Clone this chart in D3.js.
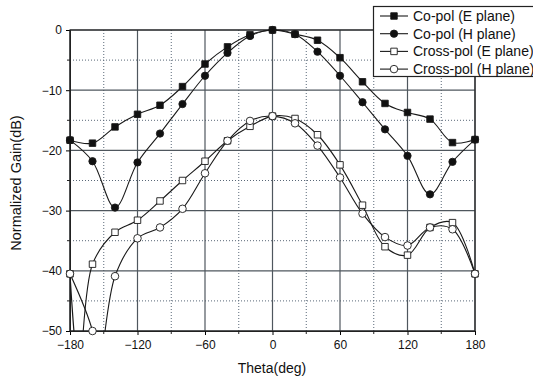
<!DOCTYPE html>
<html><head><meta charset="utf-8">
<script src="https://cdn.jsdelivr.net/npm/d3@7/dist/d3.min.js"></script>
<style>body{margin:0;background:#fff;}svg{display:block;font-family:"Liberation Sans",Arial,sans-serif;}</style>
</head><body><svg id="c" width="533" height="377"></svg>
<script>
const theta = [-180,-160,-140,-120,-100,-80,-60,-40,-20,0,20,40,60,80,100,120,140,160,180];
const coPolE    = [-18.3,-18.8,-16.1,-14.0,-12.5,-9.4,-5.65,-2.8,-0.8,0,-0.7,-1.7,-4.6,-8.6,-12.2,-13.7,-14.8,-18.7,-18.2];
const coPolH    = [-18.3,-21.8,-29.5,-22.0,-17.2,-12.3,-7.6,-3.8,-1.0,0,-0.7,-3.6,-7.6,-12.0,-16.5,-20.9,-27.3,-21.9,-18.2];
const crossPolE = [-40.5,-38.9,-33.6,-31.6,-28.4,-25.0,-21.8,-18.4,-16.0,-14.3,-14.7,-17.4,-22.4,-29.1,-36.0,-37.4,-32.8,-32.0,-40.5];
const crossPolH = [-40.5,-50.0,-40.9,-34.6,-32.8,-29.7,-23.8,-18.4,-15.1,-14.3,-15.5,-19.2,-24.5,-30.5,-34.4,-35.8,-32.8,-33.1,-40.5];
// unmarked samples where the curves drop below the axis floor
const crossPolEExtra = [[-172,-56]];
const crossPolHExtra = [[-155,-57]];
const seriesNames = ["Co-pol (E plane)","Co-pol (H plane)","Cross-pol (E plane)","Cross-pol (H plane)"];
const xTicks = [-180,-120,-60,0,60,120,180];
const xMinor = [-150,-90,-30,30,90,150];
const yTicks = [0,-10,-20,-30,-40,-50];
const yMinor = [-5,-15,-25,-35,-45];

const svg = d3.select("#c");
const L=70, R=475, T=30, B=331;
const x = d3.scaleLinear().domain([-180,180]).range([L,R]);
const y = d3.scaleLinear().domain([-50,0]).range([B,T]);
const majorCol="#4f575e", minorCol="#5a6878";

// grid
const g = svg.append("g");
g.selectAll(".vm").data(xMinor).join("line").attr("x1",d=>x(d)).attr("x2",d=>x(d)).attr("y1",T).attr("y2",B)
  .attr("stroke",minorCol).attr("stroke-width",1).attr("stroke-dasharray","1,2");
g.selectAll(".hm").data(yMinor).join("line").attr("y1",d=>y(d)).attr("y2",d=>y(d)).attr("x1",L).attr("x2",R)
  .attr("stroke",minorCol).attr("stroke-width",1).attr("stroke-dasharray","1,2");
g.selectAll(".vM").data(xTicks).join("line").attr("x1",d=>x(d)).attr("x2",d=>x(d)).attr("y1",T).attr("y2",B)
  .attr("stroke",majorCol).attr("stroke-width",1.2);
g.selectAll(".hM").data(yTicks).join("line").attr("y1",d=>y(d)).attr("y2",d=>y(d)).attr("x1",L).attr("x2",R)
  .attr("stroke",majorCol).attr("stroke-width",1.2);

// axes
const xAxis = d3.axisBottom(x).tickValues(xTicks).tickSize(4).tickPadding(5);
const ax = svg.append("g").attr("transform",`translate(0,${B})`).call(xAxis);
ax.select(".domain").attr("stroke","#222");
ax.selectAll("text").attr("font-size",12).attr("fill","#111").attr("font-family","Liberation Sans, Arial, sans-serif");
svg.append("g").selectAll("line").data(xMinor).join("line").attr("x1",d=>x(d)).attr("x2",d=>x(d)).attr("y1",B).attr("y2",B+3).attr("stroke","#222");
const yAxis = d3.axisLeft(y).tickValues(yTicks).tickSize(4).tickPadding(4);
const ay = svg.append("g").attr("transform",`translate(${L},0)`).call(yAxis);
ay.select(".domain").attr("stroke","#222");
ay.selectAll("text").attr("font-size",12).attr("fill","#111").attr("font-family","Liberation Sans, Arial, sans-serif");
svg.append("g").selectAll("line").data(yMinor).join("line").attr("y1",d=>y(d)).attr("y2",d=>y(d)).attr("x1",L-3).attr("x2",L).attr("stroke","#222");
svg.append("rect").attr("x",L).attr("y",T).attr("width",R-L).attr("height",B-T).attr("fill","none").attr("stroke","#222").attr("stroke-width",1.2);

svg.append("text").attr("x",272).attr("y",373).attr("text-anchor","middle").attr("font-size",14).attr("fill","#111").text("Theta(deg)");
svg.append("text").attr("transform","translate(21,183) rotate(-90)").attr("text-anchor","middle").attr("font-size",14.5).attr("fill","#111").text("Normalized Gain(dB)");

// data
svg.append("clipPath").attr("id","clip").append("rect").attr("x",L).attr("y",T-2).attr("width",R-L).attr("height",B-T+2);
const mk = (vals, extra) => theta.map((t,i)=>({t, v:vals[i], m:true}))
  .concat((extra||[]).map(e=>({t:e[0], v:e[1], m:false}))).sort((a,b)=>a.t-b.t);
const series = [
  {name:seriesNames[0], pts:mk(coPolE), sym:d3.symbolSquare, fill:"#111", size:42},
  {name:seriesNames[1], pts:mk(coPolH), sym:d3.symbolCircle, fill:"#111", size:42},
  {name:seriesNames[2], pts:mk(crossPolE,crossPolEExtra), sym:d3.symbolSquare, fill:"#fff", size:42},
  {name:seriesNames[3], pts:mk(crossPolH,crossPolHExtra), sym:d3.symbolCircle, fill:"#fff", size:45},
];
const line = d3.line().x(d=>x(d.t)).y(d=>y(d.v)).curve(d3.curveCatmullRom.alpha(0.5));
const plot = svg.append("g");
series.forEach(s=>{
  plot.append("path").attr("d",line(s.pts)).attr("fill","none").attr("stroke","#1a1a1a").attr("stroke-width",1.1).attr("clip-path","url(#clip)");
});
series.forEach(s=>{
  plot.selectAll(null).data(s.pts.filter(p=>p.m)).join("path")
    .attr("transform",p=>`translate(${x(p.t)},${y(p.v)})`)
    .attr("d",d3.symbol().type(s.sym).size(s.size))
    .attr("fill",s.fill).attr("stroke","#1a1a1a").attr("stroke-width",0.9);
});

// legend
const lg = svg.append("g");
lg.append("rect").attr("x",373.5).attr("y",6.5).attr("width",170).attr("height",70).attr("fill","#fff").attr("stroke","#222").attr("stroke-width",1.2);
series.forEach((s,i)=>{
  const yy = 16 + i*17.7;
  lg.append("line").attr("x1",380).attr("x2",408).attr("y1",yy).attr("y2",yy).attr("stroke","#1a1a1a").attr("stroke-width",1.1);
  lg.append("path").attr("transform",`translate(394,${yy})`).attr("d",d3.symbol().type(s.sym).size(s.size))
    .attr("fill",s.fill).attr("stroke","#1a1a1a").attr("stroke-width",0.9);
  lg.append("text").attr("x",413).attr("y",yy+5).attr("font-size",14).attr("fill","#111").text(s.name);
});
</script></body></html>
